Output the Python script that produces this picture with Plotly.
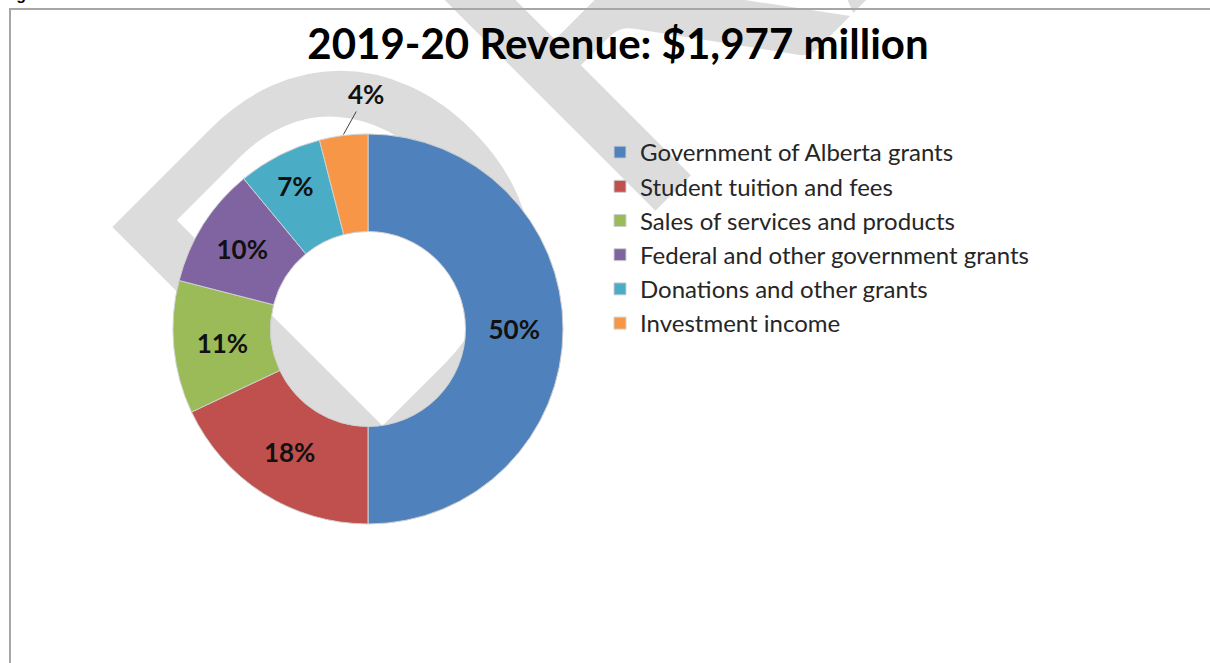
import numpy as np
import plotly.graph_objects as go

# Revenue sources for 2019-20, as shares of total revenue (%)
categories = [
    "Government of Alberta grants",
    "Student tuition and fees",
    "Sales of services and products",
    "Federal and other government grants",
    "Donations and other grants",
    "Investment income",
]
shares = [50, 18, 11, 10, 7, 4]
slice_colors = ["#4F81BD", "#C0504D", "#9BBB59", "#8064A2", "#4BACC6", "#F79646"]
label_positions = ["inside", "inside", "inside", "inside", "inside", "none"]

chart_title = "2019-20 Revenue: $1,977 million"
figure_caption = "Figure 4: Consolidated revenue"
watermark_text = "DRAFT"

W, H = 1210, 663

# pie placement (paper pixels)
pie_cx, pie_cy, pie_r = 368, 329, 195
dom_x = [(pie_cx - pie_r) / W, (pie_cx + pie_r) / W]
dom_y = [(H - pie_cy - pie_r) / H, (H - pie_cy + pie_r) / H]

fig = go.Figure()

fig.add_trace(go.Pie(
    labels=categories,
    values=shares,
    sort=False,
    direction="clockwise",
    rotation=0,
    hole=0.5,
    marker=dict(colors=slice_colors, line=dict(color="#d0d0d0", width=1)),
    texttemplate="%{value}%",
    textposition=label_positions,
    insidetextorientation="horizontal",
    textfont=dict(family="Lato", size=26, color="#111111", weight="bold"),
    domain=dict(x=dom_x, y=dom_y),
    hoverinfo="label+percent",
))

# callout for the last (smallest) slice, placed from its mid angle
total = float(np.sum(shares))
mid_frac = (np.sum(shares[:-1]) + shares[-1] / 2) / total
theta = 2 * np.pi * mid_frac  # clockwise from 12 o'clock
edge_x = pie_cx + (pie_r + 1) * np.sin(theta)
edge_y = pie_cy - (pie_r + 1) * np.cos(theta)

# watermark centre (paper pixels)
wm_x, wm_y = 787, -215

fig.update_layout(
    width=W,
    height=H,
    margin=dict(l=0, r=0, t=0, b=0),
    paper_bgcolor="white",
    plot_bgcolor="white",
    showlegend=True,
    legend=dict(
        x=600 / W,
        y=1 - 130 / H,
        xanchor="left",
        yanchor="top",
        font=dict(family="Lato", size=24, color="#262626"),
        bgcolor="rgba(0,0,0,0)",
        itemclick=False,
    ),
    title=dict(
        text=chart_title,
        x=618 / W,
        xanchor="center",
        y=1 - 44 / H,
        yanchor="middle",
        font=dict(family="Lato", size=42, color="#000000", weight="bold"),
    ),
    shapes=[
        # watermark behind the chart
        dict(
            type="rect", xref="paper", yref="paper",
            x0=wm_x / W - 0.05, x1=wm_x / W + 0.05,
            y0=1 - wm_y / H - 0.05, y1=1 - wm_y / H + 0.05,
            line=dict(width=0), fillcolor="rgba(0,0,0,0)",
            layer="below",
            label=dict(
                text=watermark_text,
                textangle=-45,
                textposition="middle center",
                font=dict(family="Lato", size=520, color="#dcdcdc"),
            ),
        ),
        # figure frame
        dict(
            type="rect", xref="paper", yref="paper",
            x0=10 / W, x1=1.05, y0=-0.05, y1=1 - 9 / H,
            line=dict(color="#a6a6a6", width=2),
            fillcolor="rgba(0,0,0,0)",
            layer="above",
        ),
    ],
    annotations=[
        dict(
            text=figure_caption,
            xref="paper", yref="paper",
            x=0, y=1 - 5 / H,
            xanchor="left", yanchor="bottom",
            showarrow=False,
            font=dict(family="Liberation Sans", size=16, color="#000000", weight="bold"),
        ),
        dict(
            text=f"{shares[-1]}%",
            xref="paper", yref="paper",
            x=edge_x / W, y=1 - edge_y / H,
            ax=(366 - edge_x), ay=(94 - edge_y),
            showarrow=True, arrowhead=0, arrowwidth=1, arrowcolor="#404040",
            font=dict(family="Lato", size=26, color="#111111", weight="bold"),
        ),
    ],
)

fig.write_html("out.html")
